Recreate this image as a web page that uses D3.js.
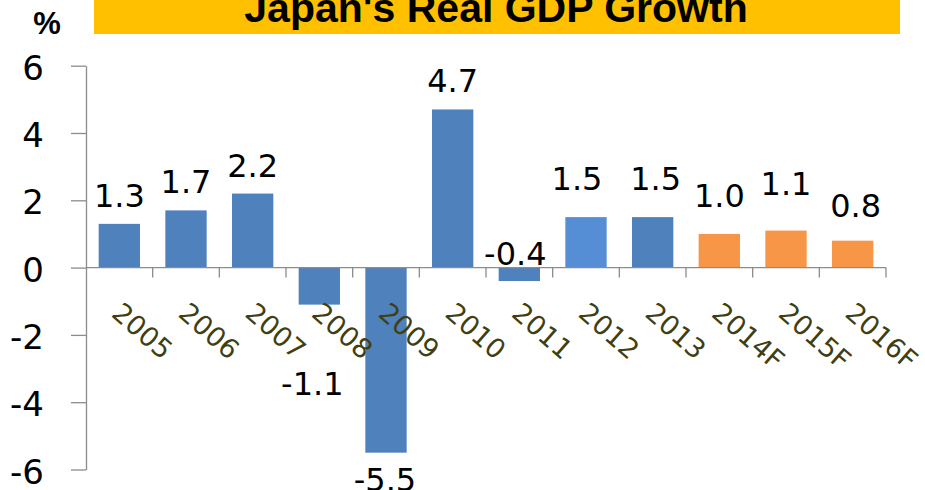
<!DOCTYPE html>
<html>
<head>
<meta charset="utf-8">
<script src="https://cdn.jsdelivr.net/npm/d3@7"></script>
<style>
  body { margin: 0; background: #fff; }
  svg { display: block; }
</style>
</head>
<body>
<div id="chart"></div>
<script>
// chart data
var years = ["2005", "2006", "2007", "2008", "2009", "2010", "2011", "2012", "2013", "2014F", "2015F", "2016F"];
var growth = [1.3, 1.7, 2.2, -1.1, -5.5, 4.7, -0.4, 1.5, 1.5, 1.0, 1.1, 0.8];
var yTicks = [-6, -4, -2, 0, 2, 4, 6];

// bar colours by year (forecasts in orange)
var barColors = ["#4f81bd", "#4f81bd", "#4f81bd", "#4f81bd", "#4f81bd", "#4f81bd",
  "#4f81bd", "#558ed5", "#4f81bd", "#f79646", "#f79646", "#f79646"];

// label nudges [dx, dy] from the bar end (labels were moved by hand in the original)
var labelNudge = [[0, -17], [0, -17], [0, -17], [-7, 90], [-1, 38], [0, -17],
  [-4, -16], [-9, -27], [3, -27], [0, -27], [0, -36], [3, -24]];

var svgWidth = 925;
var svgHeight = 490;

var svg = d3.select("#chart")
  .append("svg")
  .attr("width", svgWidth)
  .attr("height", svgHeight);

// title banner
svg.append("rect")
  .attr("x", 94)
  .attr("y", 0)
  .attr("width", 806)
  .attr("height", 34)
  .attr("fill", "#ffc000");

svg.append("text")
  .attr("x", 496)
  .attr("y", 22)
  .attr("text-anchor", "middle")
  .style("font-family", "'Liberation Sans', Arial, sans-serif")
  .style("font-weight", "bold")
  .style("font-size", "41px")
  .text("Japan's Real GDP Growth");

svg.append("text")
  .attr("x", 47)
  .attr("y", 34)
  .attr("text-anchor", "middle")
  .style("font-family", "'Liberation Sans', Arial, sans-serif")
  .style("font-weight", "bold")
  .style("font-size", "31px")
  .text("%");

// scales
var xScale = d3.scaleBand()
  .domain(years)
  .range([86, 886])
  .paddingInner(0.38)
  .paddingOuter(0.19);

var yScale = d3.scaleLinear()
  .domain([-6, 6])
  .range([469.5, 65.7]);

var y0 = yScale(0);
var axisColor = "#8c8c8c";

// y axis
var leftAxis = d3.axisLeft(yScale)
  .tickValues(yTicks)
  .tickFormat(d => String(d))
  .tickSize(15)
  .tickPadding(27)
  .tickSizeOuter(0);

var yAxisG = svg.append("g")
  .attr("transform", "translate(86,0)")
  .call(leftAxis);

yAxisG.select(".domain").attr("stroke", axisColor).attr("stroke-width", 1.3);
yAxisG.selectAll(".tick line").attr("stroke", axisColor).attr("stroke-width", 1.3);
yAxisG.selectAll(".tick text")
  .attr("dy", "0.4em")
  .attr("fill", "#000")
  .style("font-family", "'DejaVu Sans', Verdana, sans-serif")
  .style("font-size", "34px");

// bars
svg.selectAll("rect.bar")
  .data(growth)
  .enter()
  .append("rect")
  .attr("class", "bar")
  .attr("x", (d, i) => xScale(years[i]))
  .attr("y", d => yScale(Math.max(0, d)))
  .attr("width", xScale.bandwidth())
  .attr("height", d => Math.abs(yScale(d) - y0))
  .attr("fill", (d, i) => barColors[i]);

// category axis along zero line, ticks at band boundaries
var boundaries = years.map(d => xScale(d) - xScale.step() * xScale.paddingInner() / 2).slice(1);
boundaries.push(886);

svg.append("line")
  .attr("x1", 86)
  .attr("x2", 886)
  .attr("y1", y0)
  .attr("y2", y0)
  .attr("stroke", axisColor)
  .attr("stroke-width", 1.3);

svg.selectAll("line.cat-tick")
  .data(boundaries)
  .enter()
  .append("line")
  .attr("class", "cat-tick")
  .attr("x1", d => d)
  .attr("x2", d => d)
  .attr("y1", y0)
  .attr("y2", y0 + 10)
  .attr("stroke", axisColor)
  .attr("stroke-width", 1.3);

// rotated year labels
svg.selectAll("text.year")
  .data(years)
  .enter()
  .append("text")
  .attr("class", "year")
  .attr("transform", d => `translate(${xScale(d) + xScale.bandwidth() / 2 - 9}, ${y0 + 48}) rotate(41)`)
  .attr("fill", "#3f3f12")
  .style("font-family", "'DejaVu Sans', Verdana, sans-serif")
  .style("font-size", "27px")
  .text(d => d);

// value labels
svg.selectAll("text.value")
  .data(growth)
  .enter()
  .append("text")
  .attr("class", "value")
  .attr("x", (d, i) => xScale(years[i]) + xScale.bandwidth() / 2 + labelNudge[i][0])
  .attr("y", (d, i) => yScale(d) + labelNudge[i][1])
  .attr("text-anchor", "middle")
  .attr("fill", "#000")
  .style("font-family", "'DejaVu Sans', Verdana, sans-serif")
  .style("font-size", "32px")
  .text(d => d.toFixed(1));
</script>
</body>
</html>
